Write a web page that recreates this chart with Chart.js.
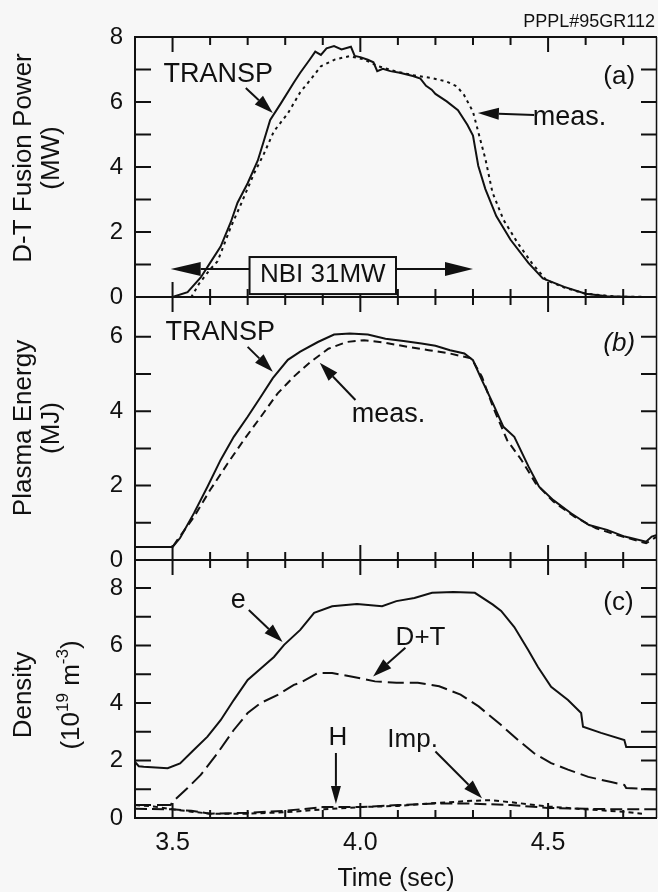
<!DOCTYPE html>
<html>
<head>
<meta charset="utf-8">
<script src="https://cdn.jsdelivr.net/npm/chart.js@4.4.0/dist/chart.umd.min.js"></script>
<style>
  html, body { margin: 0; padding: 0; background: #f7f7f7; }
  #wrap { position: relative; width: 658px; height: 892px; overflow: hidden; }
  #wrap canvas { position: absolute; left: 0; top: 0; }
</style>
</head>
<body>
<div id="wrap">
  <canvas id="cA" width="658" height="892"></canvas>
  <canvas id="cB" width="658" height="892"></canvas>
  <canvas id="cC" width="658" height="892"></canvas>
</div>
<script>
const INK = '#111';
const FONT = '"Liberation Sans", Arial, Helvetica, sans-serif';

// (a) D-T fusion power (MW)
const tPowTransp = [3.40,3.50,3.54,3.575,3.60,3.628,3.655,3.673,3.70,3.727,3.743,3.76,3.788,3.823,3.84,3.865,3.88,3.895,3.91,3.93,3.95,3.975,3.985,4.00,4.02,4.035,4.045,4.06,4.08,4.105,4.14,4.16,4.175,4.19,4.20,4.23,4.26,4.285,4.30,4.314,4.333,4.362,4.40,4.448,4.486,4.543,4.60,4.657,4.733,4.79];
const powTransp  = [0,0,0.15,0.6,1.05,1.55,2.3,2.9,3.5,4.2,4.8,5.45,5.95,6.6,6.9,7.3,7.55,7.45,7.65,7.72,7.62,7.7,7.42,7.38,7.3,7.22,6.95,7.02,6.95,6.9,6.8,6.72,6.5,6.38,6.25,6.02,5.75,5.3,4.97,4.04,3.32,2.49,1.76,1.04,0.57,0.31,0.1,0.02,0,0];
const tPowMeas = [3.40,3.55,3.57,3.60,3.62,3.655,3.68,3.717,3.743,3.77,3.807,3.84,3.871,3.895,3.933,3.971,4.01,4.048,4.095,4.143,4.19,4.229,4.257,4.276,4.30,4.314,4.333,4.352,4.381,4.419,4.457,4.495,4.543,4.60,4.686,4.79];
const powMeas  = [0,0,0.4,0.85,1.1,2.15,2.8,3.8,4.4,5.1,5.65,6.3,6.74,7.1,7.31,7.41,7.31,7.1,6.94,6.82,6.74,6.63,6.48,6.22,5.7,5.08,4.25,3.21,2.38,1.66,1.04,0.52,0.29,0.1,0.01,0];

// (b) plasma energy (MJ)
const tEnTransp = [3.40,3.50,3.52,3.557,3.593,3.628,3.663,3.70,3.735,3.767,3.807,3.84,3.887,3.93,3.972,4.02,4.067,4.115,4.163,4.20,4.239,4.277,4.30,4.324,4.353,4.381,4.41,4.448,4.476,4.514,4.562,4.609,4.657,4.704,4.761,4.776,4.79];
const enTransp  = [0.35,0.35,0.59,1.26,1.97,2.69,3.31,3.85,4.39,4.89,5.38,5.6,5.86,6.06,6.09,6.06,5.95,5.89,5.82,5.76,5.64,5.55,5.37,4.83,4.21,3.58,3.31,2.51,1.97,1.61,1.25,0.94,0.81,0.63,0.49,0.63,0.67];
const tEnMeas = [3.40,3.50,3.513,3.557,3.60,3.647,3.69,3.735,3.78,3.823,3.868,3.915,3.963,4.01,4.067,4.125,4.182,4.239,4.296,4.324,4.353,4.391,4.429,4.467,4.514,4.571,4.628,4.685,4.761,4.79];
const enMeas  = [0.35,0.35,0.54,1.16,1.88,2.6,3.23,3.85,4.48,4.93,5.33,5.68,5.86,5.91,5.84,5.73,5.64,5.55,5.42,4.92,4.12,3.22,2.69,2.06,1.57,1.16,0.85,0.67,0.45,0.63];

// (c) density (10^19 m^-3)
const tNe = [3.40,3.41,3.423,3.487,3.52,3.557,3.593,3.628,3.663,3.70,3.735,3.77,3.797,3.84,3.877,3.925,3.991,4.058,4.096,4.144,4.191,4.248,4.305,4.353,4.375,4.41,4.447,4.473,4.508,4.553,4.588,4.593,4.641,4.703,4.708,4.79];
const ne  = [1.95,1.8,1.78,1.73,1.9,2.37,2.83,3.4,4.1,4.8,5.2,5.6,6.02,6.54,7.13,7.36,7.44,7.36,7.54,7.65,7.83,7.86,7.83,7.42,7.2,6.64,5.84,5.25,4.56,4.1,3.65,3.17,2.96,2.71,2.47,2.47];
const tNdt = [3.40,3.495,3.50,3.54,3.575,3.62,3.663,3.70,3.735,3.78,3.823,3.84,3.887,3.925,3.972,4.039,4.096,4.153,4.21,4.267,4.315,4.375,4.42,4.462,4.508,4.553,4.607,4.668,4.703,4.708,4.79];
const ndt  = [0.45,0.45,0.56,1.04,1.5,2.26,3.06,3.65,4.0,4.28,4.63,4.7,5.04,5.04,4.93,4.75,4.7,4.7,4.58,4.29,3.88,3.23,2.71,2.26,1.91,1.68,1.43,1.25,1.15,1.04,0.99];
const tNh = [3.40,3.50,3.55,3.60,3.70,3.80,3.90,4.00,4.10,4.20,4.30,4.40,4.50,4.60,4.70,4.79];
const nh  = [0.32,0.3,0.25,0.15,0.18,0.25,0.38,0.38,0.45,0.5,0.5,0.45,0.35,0.32,0.3,0.3];
const tNimp = [3.40,3.45,3.50,3.55,3.60,3.70,3.80,3.90,4.00,4.10,4.20,4.30,4.35,4.40,4.50,4.60,4.70,4.75];
const nimp  = [0.45,0.4,0.3,0.22,0.15,0.15,0.2,0.3,0.38,0.42,0.52,0.6,0.62,0.55,0.4,0.3,0.22,0.15];

const xLabels = [3.5, 4.0, 4.5];
const xTickMarks = [3.5,3.6,3.7,3.8,3.9,4.0,4.1,4.2,4.3,4.4,4.5,4.6,4.7];

const pts = (xs, ys) => xs.map((x, i) => ({ x, y: ys[i] }));

function series(xs, ys, dash) {
  return { data: pts(xs, ys), borderColor: INK, borderWidth: 2, borderDash: dash || [],
           pointRadius: 0, fill: false, tension: 0 };
}

function arrow(ctx, x1, y1, x2, y2, len, half) {
  const a = Math.atan2(y2 - y1, x2 - x1);
  const bx = x2 - len * Math.cos(a), by = y2 - len * Math.sin(a);
  ctx.beginPath(); ctx.moveTo(x1, y1); ctx.lineTo(bx, by); ctx.stroke();
  ctx.beginPath(); ctx.moveTo(x2, y2);
  ctx.lineTo(bx + half * Math.sin(a), by - half * Math.cos(a));
  ctx.lineTo(bx - half * Math.sin(a), by + half * Math.cos(a));
  ctx.closePath(); ctx.fill();
}

// frame, inward ticks and the annotations of each panel
const deco = {
  id: 'deco',
  afterDatasetsDraw(chart, args, opts) {
    const { ctx, chartArea: a, scales: { x, y } } = chart;
    const X = v => x.getPixelForValue(v), Y = v => y.getPixelForValue(v);
    ctx.save();
    ctx.strokeStyle = INK; ctx.fillStyle = INK; ctx.lineWidth = 2;
    ctx.beginPath();
    ctx.moveTo(a.right, a.top); ctx.lineTo(a.left, a.top); ctx.lineTo(a.left, a.bottom); ctx.lineTo(a.right, a.bottom);
    ctx.stroke();
    ctx.lineWidth = 1.5;
    ctx.beginPath(); ctx.moveTo(a.right - 0.5, a.top); ctx.lineTo(a.right - 0.5, a.bottom); ctx.stroke();
    ctx.lineWidth = 2;
    ctx.beginPath();
    for (const t of xTickMarks) {
      const px = X(t), L = xLabels.includes(t) ? 15 : 8;
      ctx.moveTo(px, a.top); ctx.lineTo(px, a.top + L);
      ctx.moveTo(px, a.bottom); ctx.lineTo(px, a.bottom - L);
    }
    for (let v = 1; v < y.max - 0.2; v++) {
      ctx.moveTo(a.left, Y(v)); ctx.lineTo(a.left + 16, Y(v));
      ctx.moveTo(a.right, Y(v)); ctx.lineTo(a.right - 16, Y(v));
    }
    ctx.stroke();

    // y-axis title
    ctx.save();
    ctx.translate(0, opts.titleY);
    ctx.rotate(-Math.PI / 2);
    ctx.textAlign = 'center'; ctx.textBaseline = 'alphabetic';
    ctx.font = '26px ' + FONT;
    ctx.fillText(opts.title[0], 0, 31);
    if (opts.title[1]) ctx.fillText(opts.title[1], 0, 59);
    ctx.restore();
    if (opts.densityUnit) drawDensityUnit(ctx, opts.titleY);

    ctx.lineWidth = 2;
    for (const n of opts.notes || []) {
      ctx.font = (n.italic ? 'italic ' : '') + (n.size || 27) + 'px ' + FONT;
      ctx.textAlign = n.align || 'left'; ctx.textBaseline = 'alphabetic';
      ctx.fillText(n.text, X(n.t), Y(n.v));
    }
    for (const r of opts.arrows || []) {
      arrow(ctx, X(r[0]), Y(r[1]), X(r[2]), Y(r[3]), r[4] || 19, r[5] || 6);
    }
    if (opts.box) {
      const b = opts.box;
      ctx.fillStyle = '#f7f7f7';
      ctx.fillRect(X(b.t0), Y(b.v1), X(b.t1) - X(b.t0), Y(b.v0) - Y(b.v1));
      ctx.fillStyle = INK;
      ctx.strokeRect(X(b.t0), Y(b.v1), X(b.t1) - X(b.t0), Y(b.v0) - Y(b.v1));
      ctx.font = '26px ' + FONT; ctx.textAlign = 'center';
      ctx.fillText(b.text, (X(b.t0) + X(b.t1)) / 2, Y(b.vText));
    }
    if (opts.tag) {
      ctx.font = '18px ' + FONT; ctx.textAlign = 'right';
      ctx.fillText(opts.tag, 655, 27);
    }
    ctx.restore();
  }
};

function drawDensityUnit(ctx, cy) {
  const big = '26px ' + FONT, small = '17px ' + FONT;
  const parts = [['(10', big, 0], ['19', small, -11], [' m', big, 0], ['-3', small, -11], [')', big, 0]];
  ctx.save();
  let w = 0;
  for (const p of parts) { ctx.font = p[1]; w += ctx.measureText(p[0]).width; }
  ctx.translate(79, cy);
  ctx.rotate(-Math.PI / 2);
  ctx.textAlign = 'left';
  let x = -w / 2;
  for (const p of parts) { ctx.font = p[1]; ctx.fillText(p[0], x, p[2]); x += ctx.measureText(p[0]).width; }
  ctx.restore();
}

function yAxis(max, labels) {
  return {
    type: 'linear', min: 0, max,
    afterFit: s => { s.width = 135; },
    afterBuildTicks: s => { s.ticks = labels.map(v => ({ value: v })); },
    grid: { display: false, drawTicks: false }, border: { display: false },
    ticks: { color: INK, padding: 12, font: { family: FONT, size: 24 } }
  };
}

function panel(id, datasets, top, bottom, ymax, ylabels, decoOpts, showX) {
  const xScale = {
    type: 'linear', min: 3.4, max: 4.79, display: !!showX,
    grid: { display: false, drawTicks: false }, border: { display: false }
  };
  if (showX) {
    xScale.afterFit = s => { s.height = 74; };
    xScale.afterBuildTicks = s => { s.ticks = xLabels.map(v => ({ value: v })); };
    xScale.ticks = { color: INK, padding: 10, maxRotation: 0, autoSkip: false,
                     font: { family: FONT, size: 25 }, callback: v => Number(v).toFixed(1) };
    xScale.title = { display: true, text: 'Time (sec)', color: INK, padding: 0,
                     font: { family: FONT, size: 25, lineHeight: 1.0 } };
  }
  return new Chart(document.getElementById(id), {
    type: 'line',
    data: { datasets },
    options: {
      responsive: false, animation: false, events: [],
      layout: { padding: { top, bottom: showX ? 0 : 892 - bottom, left: 0, right: 1 } },
      scales: { x: xScale, y: yAxis(ymax, ylabels) },
      plugins: { legend: { display: false }, tooltip: { enabled: false }, deco: decoOpts }
    },
    plugins: [deco]
  });
}

panel('cA', [series(tPowTransp, powTransp), series(tPowMeas, powMeas, [3, 4])],
  37, 297, 8, [0, 2, 4, 6, 8], {
    title: ['D-T Fusion Power', '(MW)'], titleY: 158, tag: 'PPPL#95GR112',
    notes: [{ text: 'TRANSP', t: 3.476, v: 6.62 }, { text: 'meas.', t: 4.459, v: 5.29 },
            { text: '(a)', t: 4.647, v: 6.55, size: 26 }],
    arrows: [[3.695, 6.43, 3.767, 5.66], [4.463, 5.6, 4.313, 5.66, 21, 6],
             [3.705, 0.86, 3.495, 0.86, 30, 7], [4.095, 0.86, 4.30, 0.86, 28, 7]],
    box: { t0: 3.705, t1: 4.095, v0: 0.09, v1: 1.23, text: 'NBI 31MW', vText: 0.47 }
  });

panel('cB', [series(tEnTransp, enTransp), series(tEnMeas, enMeas, [8, 5])],
  297, 560, 7.07, [0, 2, 4, 6], {
    title: ['Plasma Energy', '(MJ)'], titleY: 428,
    notes: [{ text: 'TRANSP', t: 3.481, v: 5.92 }, { text: 'meas.', t: 3.977, v: 3.71 },
            { text: '(b)', t: 4.647, v: 5.62, size: 26, italic: true }],
    arrows: [[3.70, 5.73, 3.767, 5.06], [3.987, 4.3, 3.892, 5.3]]
  });

panel('cC', [series(tNe, ne), series(tNdt, ndt, [16, 6]), series(tNh, nh, [12, 5]), series(tNimp, nimp, [5, 4])],
  560, 818, 8.97, [0, 2, 4, 6, 8], {
    title: ['Density'], titleY: 695, densityUnit: true,
    notes: [{ text: 'e', t: 3.655, v: 7.3 }, { text: 'D+T', t: 4.094, v: 6.02, size: 26 },
            { text: 'H', t: 3.915, v: 2.54, size: 26 }, { text: 'Imp.', t: 4.072, v: 2.47, size: 26 },
            { text: '(c)', t: 4.647, v: 7.23, size: 26 }],
    arrows: [[3.703, 7.23, 3.793, 6.12], [4.12, 5.92, 4.034, 4.92],
             [3.935, 2.26, 3.935, 0.49, 18, 5], [4.20, 2.31, 4.324, 0.69]]
  }, true);
</script>
</body>
</html>
